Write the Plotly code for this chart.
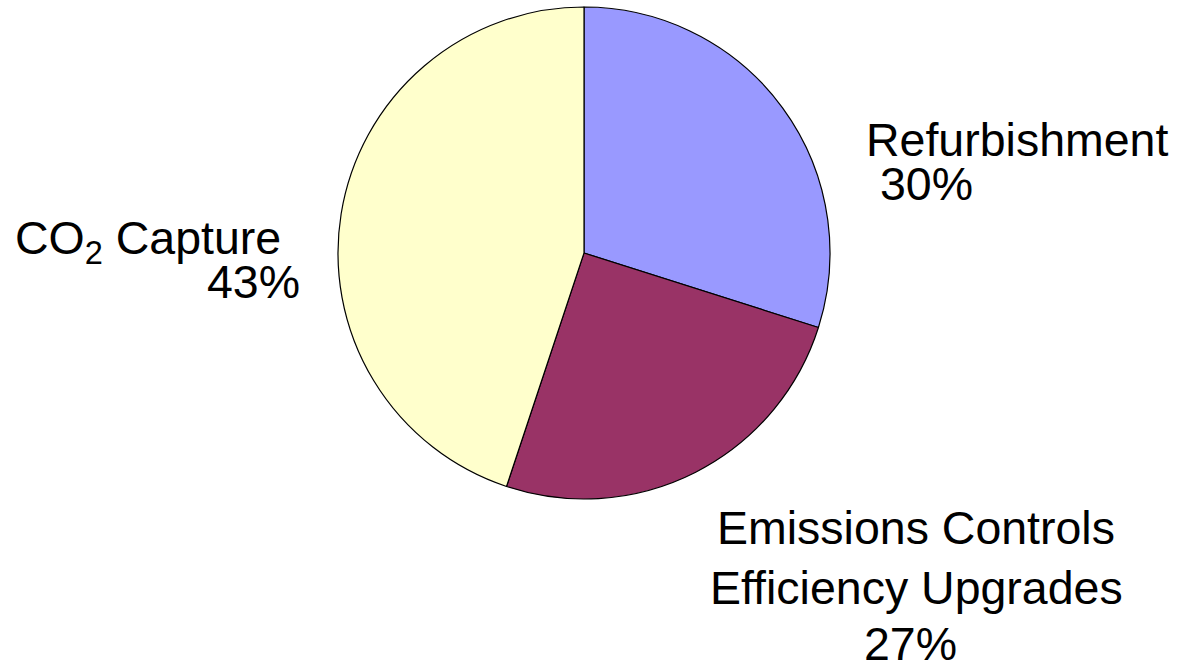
import plotly.graph_objects as go

# Data
categories = ["Refurbishment", "Emissions Controls<br>Efficiency Upgrades", "CO<sub>2</sub> Capture"]
slice_values = [29.9, 25.2, 44.9]          # slice sizes as drawn
percent_labels = ["30%", "27%", "43%"]     # percentages as printed
colors = ["#9999FF", "#993366", "#FFFFCC"]

W, H = 1180, 669
FONT = dict(family="Arial, Liberation Sans, sans-serif", size=46.5, color="black")

cx, cy, r = 584, 253, 246

fig = go.Figure(go.Pie(
    values=slice_values,
    labels=categories,
    sort=False,
    direction="clockwise",
    rotation=0,
    marker=dict(colors=colors, line=dict(color="black", width=1.2)),
    textinfo="none",
    hoverinfo="none",
    showlegend=False,
    domain=dict(x=[(cx - r) / W, (cx + r) / W], y=[1 - (cy + r) / H, 1 - (cy - r) / H]),
))

def px(x):
    return x / W

def py(y):
    return 1 - y / H

anns = []
# Refurbishment
anns.append(dict(text=categories[0], x=px(864), y=py(140), xanchor="left"))
anns.append(dict(text=percent_labels[0], x=px(878), y=py(184), xanchor="left"))
# CO2 Capture
anns.append(dict(text=categories[2], x=px(13), y=py(241), xanchor="left"))
anns.append(dict(text=percent_labels[2], x=px(302), y=py(282), xanchor="right"))
# Emissions Controls / Efficiency Upgrades
l1, l2 = categories[1].split("<br>")
anns.append(dict(text=l1, x=px(916), y=py(528), xanchor="center"))
anns.append(dict(text=l2, x=px(916), y=py(588), xanchor="center"))
anns.append(dict(text=percent_labels[1], x=px(910), y=py(644), xanchor="center"))

for a in anns:
    a.update(xref="paper", yref="paper", yanchor="middle", showarrow=False, font=FONT)

fig.update_layout(
    width=W, height=H,
    margin=dict(l=0, r=0, t=0, b=0),
    paper_bgcolor="white", plot_bgcolor="white",
    annotations=anns,
)

fig.write_html("out.html")
